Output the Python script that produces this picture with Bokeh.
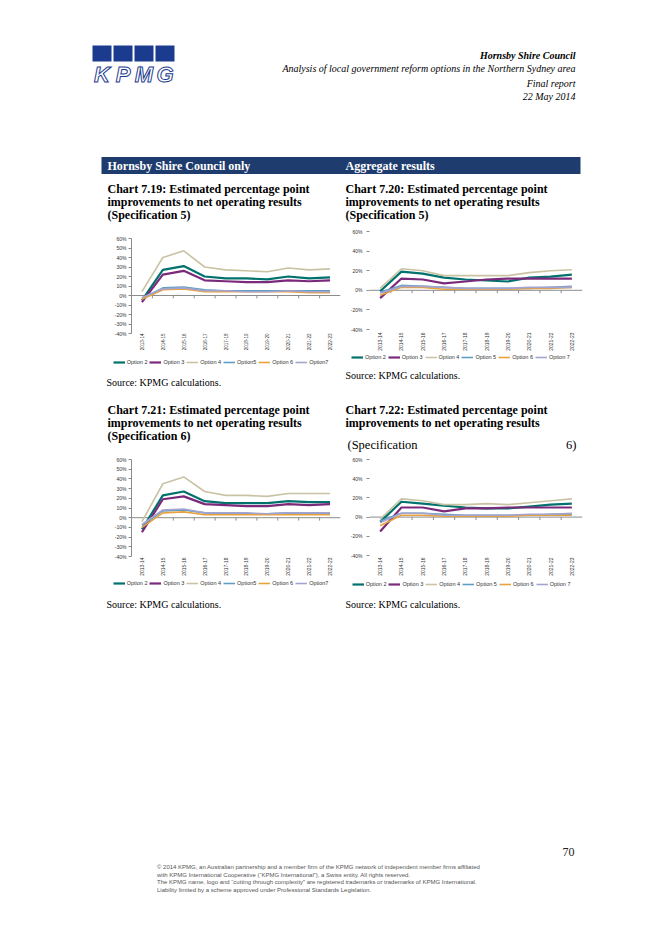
import math
from bokeh.plotting import figure
from bokeh.models import Range1d, FixedTicker, Span, Spacer, Legend, LegendItem
from bokeh.layouts import column, row
from bokeh.core.properties import value
from bokeh.embed import file_html
from bokeh.resources import INLINE

# ---------------- data ----------------
CATEGORIES = ["2013-14", "2014-15", "2015-16", "2016-17", "2017-18",
              "2018-19", "2019-20", "2020-21", "2021-22", "2022-23"]

LABELS_A = ["Option 2", "Option 3", "Option 4", "Option5", "Option 6", "Option7"]
LABELS_B = ["Option 2", "Option 3", "Option 4", "Option 5", "Option 6", "Option 7"]

# Chart 7.19 - Hornsby only, Specification 5 (percentage points)
c719_opt2 = [-5, 27, 31, 20, 18, 18, 17, 20, 18, 19]
c719_opt3 = [-7, 22, 26, 16, 15, 14, 14, 16, 15, 16]
c719_opt4 = [4, 40, 47, 30, 27, 26, 25, 29, 27, 28]
c719_opt5 = [-3, 8, 9, 6, 5, 5, 5, 5, 5, 5]
c719_opt6 = [-4, 6, 7, 4, 4, 4, 4, 4, 3, 3]
c719_opt7 = [-2, 7, 8, 5, 5, 4, 4, 5, 4, 4]

# Chart 7.20 - Aggregate, Specification 5
c720_opt2 = [-1, 19, 17, 13, 11, 10, 9, 13, 14, 16]
c720_opt3 = [-8, 12, 11, 7, 9, 11, 12, 12, 12, 12]
c720_opt4 = [2, 22, 20, 15, 15, 15, 15, 18, 20, 21]
c720_opt5 = [-2, 5, 4, 3, 2, 2, 2, 2, 3, 4]
c720_opt6 = [-5, 3, 3, 1, 1, 1, 1, 2, 2, 3]
c720_opt7 = [-3, 4, 4, 3, 2, 2, 2, 3, 3, 3]

# Chart 7.21 - Hornsby only, Specification 6
c721_opt2 = [-12, 23, 27, 17, 15, 15, 15, 17, 16, 16]
c721_opt3 = [-15, 19, 22, 14, 13, 12, 12, 14, 13, 14]
c721_opt4 = [-4, 35, 42, 27, 23, 23, 22, 25, 25, 25]
c721_opt5 = [-8, 7, 8, 5, 4, 4, 4, 5, 4, 4]
c721_opt6 = [-10, 5, 6, 3, 3, 3, 3, 3, 3, 3]
c721_opt7 = [-7, 8, 9, 5, 5, 5, 4, 5, 5, 5]

# Chart 7.22 - Aggregate, Specification 6
c722_opt2 = [-5, 16, 14, 12, 10, 9, 9, 11, 13, 14]
c722_opt3 = [-15, 10, 10, 6, 9, 9, 10, 10, 10, 10]
c722_opt4 = [-2, 19, 17, 13, 13, 14, 13, 15, 17, 19]
c722_opt5 = [-4, 4, 4, 3, 2, 2, 2, 2, 3, 3]
c722_opt6 = [-9, 2, 2, 1, 1, 1, 1, 2, 2, 2]
c722_opt7 = [-6, 4, 4, 2, 2, 2, 2, 3, 3, 4]

Y_TICKS_10 = [-40, -30, -20, -10, 0, 10, 20, 30, 40, 50, 60]
Y_TICKS_20 = [-40, -20, 0, 20, 40, 60]

HEADER_LINES = ["Hornsby Shire Council",
                "Analysis of local government reform options in the Northern Sydney area",
                "Final report", "22 May 2014"]
LOGO_LETTERS = ["K", "P", "M", "G"]
BANNER_LABELS = ["Hornsby Shire Council only", "Aggregate results"]
TITLE_719 = ["Chart 7.19: Estimated percentage point",
             "improvements to net operating results", "(Specification 5)"]
TITLE_720 = ["Chart 7.20: Estimated percentage point",
             "improvements to net operating results", "(Specification 5)"]
TITLE_721 = ["Chart 7.21: Estimated percentage point",
             "improvements to net operating results", "(Specification 6)"]
TITLE_722 = ["Chart 7.22: Estimated percentage point",
             "improvements to net operating results"]
TITLE_722_LAST = ["(Specification", "6)"]
SOURCE = "Source: KPMG calculations."
PAGE_NUMBER = "70"
FOOTER_LINES = [
    "\u00a9 2014 KPMG, an Australian partnership and a member firm of the KPMG network of independent member firms affiliated",
    "with KPMG International Cooperative (\u201cKPMG International\u201d), a Swiss entity. All rights reserved.",
    "The KPMG name, logo and \u201ccutting through complexity\u201d are registered trademarks or trademarks of KPMG International.",
    "Liability limited by a scheme approved under Professional Standards Legislation.",
]

S719 = [c719_opt2, c719_opt3, c719_opt4, c719_opt5, c719_opt6, c719_opt7]
S720 = [c720_opt2, c720_opt3, c720_opt4, c720_opt5, c720_opt6, c720_opt7]
S721 = [c721_opt2, c721_opt3, c721_opt4, c721_opt5, c721_opt6, c721_opt7]
S722 = [c722_opt2, c722_opt3, c722_opt4, c722_opt5, c722_opt6, c722_opt7]

# ---------------- styles ----------------
SERIES_COLORS = ["#00716d", "#7b2a7b", "#c9c3a4", "#5e9ec3", "#e8a23d", "#a4a4d0"]
SERIES_WIDTHS = [2.2, 2.2, 1.6, 1.6, 1.6, 1.6]
SERIF = "Liberation Serif"
SANS = "Liberation Sans"
AXIS_GREY = "#8c8c8c"
TEXT_GREY = "#333333"
KPMG_BLUE = "#1b3b8f"
BANNER_BLUE = "#1f3c6e"
PAGE_W = 650


def page_fig(y_top, y_bottom):
    p = figure(width=PAGE_W, height=y_bottom - y_top,
               x_range=Range1d(0, PAGE_W), y_range=Range1d(y_bottom, y_top),
               output_backend="svg", toolbar_location=None,
               x_axis_type=None, y_axis_type=None, min_border=0, title=None)
    p.outline_line_color = None
    return p


def add_text(p, xs, ys, texts, size, style="normal", font=SERIF,
             color="#000000", align="left"):
    p.text(x=xs, y=ys, text=texts, text_font=value(font), text_font_size=size,
           text_font_style=style, text_color=color, text_align=align,
           text_baseline="middle")


def make_chart(series, yticks, w, h, ml, mr, mt, mb,
               y_axis_line, y_standoff, x_standoff, x_font):
    n = len(CATEGORIES)
    p = figure(width=w, height=h, x_range=Range1d(0.5, n + 0.5),
               y_range=Range1d(yticks[0], yticks[-1]),
               output_backend="svg", toolbar_location=None, title=None,
               min_border_left=ml, min_border_right=mr,
               min_border_top=mt, min_border_bottom=mb)
    p.outline_line_color = None
    p.xgrid.visible = False
    p.ygrid.visible = False
    xs = list(range(1, n + 1))

    p.add_layout(Span(location=0, dimension="width", line_color=AXIS_GREY,
                      line_width=1, level="underlay"))
    bounds = [x + 0.5 for x in xs[:-1]]
    p.segment(x0=bounds, y0=[0] * len(bounds), x1=bounds, y1=[-3] * len(bounds),
              line_color=AXIS_GREY, line_width=1)

    for vals, col, lw in zip(series, SERIES_COLORS, SERIES_WIDTHS):
        p.line(xs, vals, line_color=col, line_width=lw)

    xa = p.xaxis[0]
    xa.ticker = FixedTicker(ticks=xs)
    xa.major_label_overrides = {x: c for x, c in zip(xs, CATEGORIES)}
    xa.major_label_orientation = math.pi / 2
    xa.axis_line_color = None
    xa.major_tick_line_color = None
    xa.minor_tick_line_color = None
    xa.major_tick_out = 0
    xa.major_tick_in = 0
    xa.major_label_standoff = x_standoff
    xa.major_label_text_font = SANS
    xa.major_label_text_font_size = x_font
    xa.major_label_text_color = TEXT_GREY

    ya = p.yaxis[0]
    ya.ticker = FixedTicker(ticks=yticks)
    ya.major_label_overrides = {t: f"{t}%" for t in yticks}
    ya.axis_line_color = AXIS_GREY if y_axis_line else None
    ya.major_tick_line_color = AXIS_GREY
    ya.minor_tick_line_color = None
    ya.major_tick_out = 3
    ya.major_tick_in = 0
    ya.major_label_standoff = y_standoff
    ya.major_label_text_font = SANS
    ya.major_label_text_font_size = "5px"
    ya.major_label_text_color = TEXT_GREY
    return p


def add_legend(p, series, labels, loc):
    """Legend for a chart, drawn in the page band below it (hidden proxy lines)."""
    xs = list(range(1, len(CATEGORIES) + 1))
    items = []
    for vals, lab, col, lw in zip(series, labels, SERIES_COLORS, SERIES_WIDTHS):
        r = p.line(xs, vals, line_color=col, line_width=lw, visible=False)
        items.append(LegendItem(label=lab, renderers=[r]))
    lg = Legend(items=items, location=loc, orientation="horizontal",
                label_text_font=SANS, label_text_font_size="5.5px",
                label_text_color=TEXT_GREY, glyph_width=12, glyph_height=6,
                label_height=6, label_width=0, label_standoff=2, spacing=2,
                padding=0, margin=0, border_line_color=None,
                background_fill_alpha=0, inactive_fill_alpha=0)
    p.add_layout(lg)


# ---------------- header ----------------
header = page_fig(0, 226)
header.quad(left=[92, 113, 134, 155], right=[111, 132, 153, 174],
            top=[45, 45, 45, 45], bottom=[61, 61, 61, 61],
            fill_color=KPMG_BLUE, line_color=None)
header.text(x=[101.5, 122.5, 143.5, 164.5], y=[74, 74, 74, 74], text=LOGO_LETTERS,
            text_font=value(SANS), text_font_size="22px", text_font_style="bold italic",
            text_color="white", text_outline_color=KPMG_BLUE,
            text_align="center", text_baseline="alphabetic")
add_text(header, [575], [54.5], HEADER_LINES[:1], "10px", "bold italic", align="right")
add_text(header, [575, 575, 575], [67.5, 82.5, 96], HEADER_LINES[1:], "10px", "italic",
         align="right")
header.quad(left=[101], right=[580], top=[156.5], bottom=[173.5],
            fill_color=BANNER_BLUE, line_color=None)
add_text(header, [107, 345], [165, 165], BANNER_LABELS, "12px", "bold", color="white")
add_text(header, [107, 107, 107], [188.5, 201.5, 214.5], TITLE_719, "12px", "bold")
add_text(header, [345, 345, 345], [188.5, 201.5, 214.5], TITLE_720, "12px", "bold")

# ---------------- charts row 1 (y 226..353) ----------------
f719 = make_chart(S719, Y_TICKS_10, 245, 127, 31, 5, 12, 17, True, 2, 0, "4.6px")
f720 = make_chart(S720, Y_TICKS_20, 245, 127, 24, 8, 5, 24, False, 4, 3, "5px")

# ---------------- middle band (y 353..452) ----------------
mid = page_fig(353, 452)
add_legend(mid, S719, LABELS_A, (112.7, 86.8))
add_legend(mid, S720, LABELS_B, (351, 91.8))
add_text(mid, [106, 345], [381.5, 375], [SOURCE, SOURCE], "10px")
add_text(mid, [107, 107, 107], [409.5, 422.5, 435.5], TITLE_721, "12px", "bold")
add_text(mid, [345, 345], [409.5, 422.5], TITLE_722, "12px", "bold")
add_text(mid, [347], [444], TITLE_722_LAST[:1], "12.5px")
add_text(mid, [576], [444], TITLE_722_LAST[1:], "12.5px", align="right")

# ---------------- charts row 2 (y 452..578) ----------------
f721 = make_chart(S721, Y_TICKS_10, 245, 126, 31, 5, 7, 22, True, 2, 1, "5px")
f722 = make_chart(S722, Y_TICKS_20, 245, 126, 24, 8, 7, 22, False, 4, 2, "5px")

# ---------------- footer band (y 578..912) ----------------
footer = page_fig(578, 912)
add_legend(footer, S721, LABELS_A, (112.7, 326.1))
add_legend(footer, S722, LABELS_B, (351.7, 325.5))
add_text(footer, [106, 345], [603.5, 603.5], [SOURCE, SOURCE], "10px")
add_text(footer, [574], [851.5], [PAGE_NUMBER], "12px", color="#222222", align="right")
add_text(footer, [156.5] * 4, [866.5, 874, 881.5, 889], FOOTER_LINES, "6px",
         font=SANS, color="#555555")

# each chart is wrapped in its own column so the row does not align plot frames
layout = column(
    header,
    row(Spacer(width=100, height=127), column(f719), column(f720),
        Spacer(width=60, height=127)),
    mid,
    row(Spacer(width=100, height=126), column(f721), column(f722),
        Spacer(width=60, height=126)),
    footer,
)

open("out.html", "w").write(file_html(layout, INLINE))
